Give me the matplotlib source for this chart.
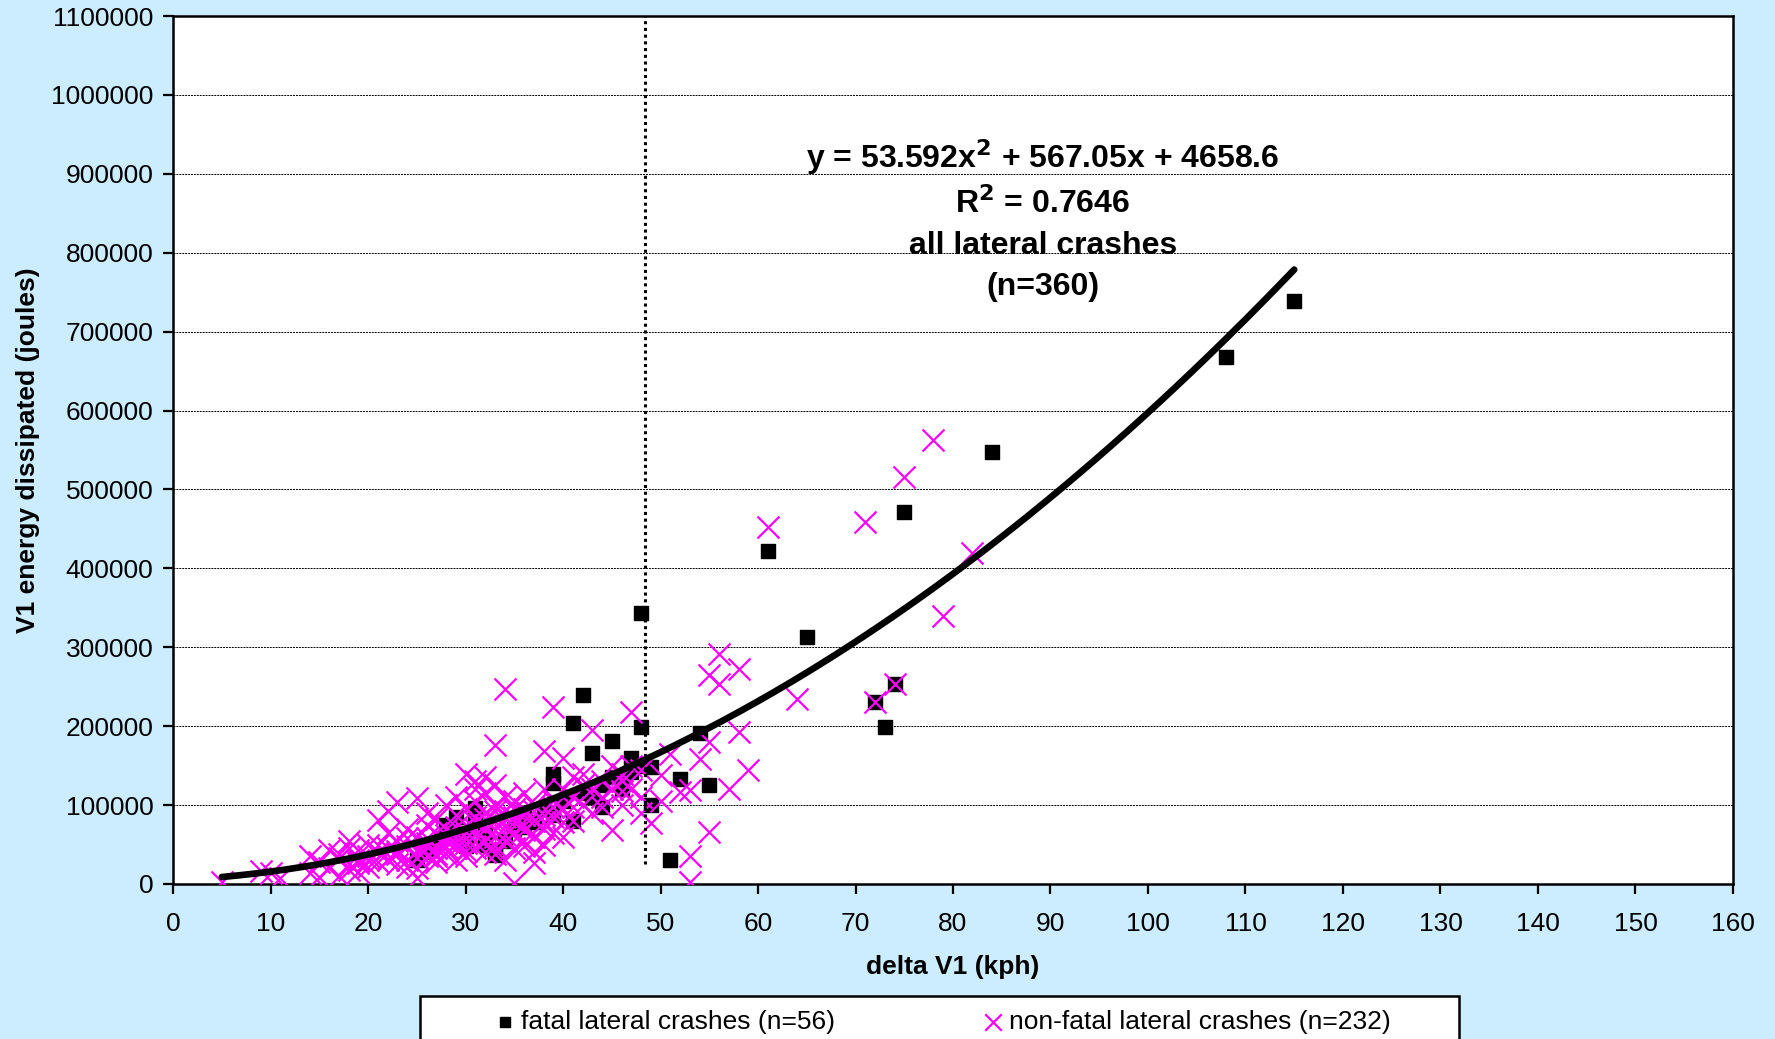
import matplotlib
matplotlib.use("Agg")
import matplotlib.pyplot as plt
from matplotlib.patches import Rectangle
import numpy as np

plt.rcParams["font.family"] = ["Liberation Sans", "DejaVu Sans"]

# fatal lateral crashes: delta V1 (kph), energy (J)
fatal_dv = [115, 108, 84, 75, 61, 65, 48, 48, 42, 41, 45, 43, 47, 46, 39, 39,
            39, 41, 44, 49, 49, 52, 54, 55, 51, 72, 74, 73, 47, 31, 29, 33,
            25, 33, 30, 28, 31, 35, 36, 27, 38, 32, 46, 48, 40, 34, 30, 26,
            37, 43, 44, 29, 32, 36, 45, 42]
fatal_e = [739000, 668000, 548000, 471000, 422000, 313000, 344000, 199000,
           240000, 204000, 181000, 166000, 160000, 130000, 140000, 128000,
           88000, 80000, 97000, 148000, 100000, 133000, 191000, 126000,
           31000, 230000, 254000, 199000, 142000, 96000, 85000, 37000,
           30000, 42000, 60000, 75000, 80000, 70000, 90000, 52000, 95000,
           62000, 120000, 150000, 105000, 55000, 48000, 40000, 78000, 110000,
           125000, 65000, 50000, 72000, 135000, 115000]

# non-fatal lateral crashes
nonfatal_dv = [78, 75, 71, 61, 82, 79, 56, 55, 56, 58, 64, 58, 59, 54, 55, 53,
               53, 72, 74, 34, 39, 47, 33, 38, 5, 9, 35, 37, 49, 45, 48, 52,
               53, 51, 50, 43, 46, 55, 57, 50,
               10, 11, 14, 14, 15, 15, 16, 16, 17, 17, 18, 18, 18, 19, 19, 19,
               20, 20, 20, 21, 21, 21, 22, 22, 22, 22, 23, 23, 23, 23, 24, 24,
               24, 25, 25, 25, 25, 25, 26, 26, 26, 26, 27, 27, 27, 27, 28, 28,
               28, 28, 29, 29, 29, 29, 29, 30, 30, 30, 30, 30, 31, 31, 31, 31,
               31, 31, 32, 32, 32, 32, 32, 32, 33, 33, 33, 33, 33, 34, 34, 34,
               34, 34, 35, 35, 35, 35, 36, 36, 36, 36, 37, 37, 37, 37, 38, 38,
               38, 38, 39, 39, 39, 40, 40, 40, 40, 41, 41, 41, 42, 42, 42, 43,
               43, 44, 44, 45, 45, 46, 46, 47, 47, 48, 48,
               17, 19, 21, 23, 24, 26, 27, 28, 29, 30, 31, 32, 33, 34, 35, 36,
               22, 25, 28, 30, 32, 34, 36, 38, 26, 29, 31, 33, 35, 37, 39, 41,
               18, 20, 24, 27, 30, 33, 36, 40, 44, 46]
nonfatal_e = [563000, 516000, 459000, 453000, 419000, 339000, 291000, 265000,
              254000, 272000, 235000, 192000, 145000, 159000, 66000, 36000,
              3000, 230000, 254000, 247000, 224000, 218000, 176000, 169000,
              3000, 16000, 1000, 27000, 77000, 69000, 145000, 116000, 119000,
              165000, 138000, 195000, 130000, 180000, 120000, 105000,
              14000, 8000, 36000, 14000, 9000, 28000, 43000, 20000, 10000,
              33000, 55000, 25000, 45000, 43000, 15000, 30000, 36000, 50000,
              22000, 40000, 28000, 81000, 64000, 45000, 32000, 93000, 104000,
              55000, 38000, 25000, 48000, 70000, 30000, 109000, 60000, 42000,
              20000, 8000, 75000, 52000, 35000, 90000, 65000, 45000, 28000,
              82000, 100000, 55000, 38000, 70000, 88000, 60000, 45000, 30000,
              110000, 140000, 75000, 52000, 95000, 35000, 130000, 105000,
              85000, 62000, 45000, 120000, 115000, 90000, 70000, 55000, 40000,
              135000, 125000, 100000, 80000, 60000, 48000, 110000, 92000,
              72000, 55000, 30000, 105000, 85000, 65000, 45000, 115000, 95000,
              75000, 55000, 100000, 80000, 60000, 40000, 120000, 88000, 70000,
              50000, 105000, 85000, 65000, 160000, 120000, 95000, 60000,
              135000, 110000, 80000, 125000, 100000, 140000, 120000, 90000,
              130000, 110000, 150000, 120000, 140000, 100000, 120000, 150000,
              110000, 90000,
              38000, 26000, 50000, 42000, 58000, 48000, 38000, 62000, 72000,
              66000, 78000, 82000, 92000, 85000, 95000, 88000,
              30000, 33000, 47000, 58000, 75000, 62000, 68000, 78000, 58000,
              52000, 70000, 68000, 78000, 92000, 98000, 98000,
              18000, 30000, 22000, 36000, 42000, 38000, 48000, 78000, 98000,
              118000]

# quadratic trend: y = 53.592x^2 + 567.05x + 4658.6
trend_coef = [53.592, 567.05, 4658.6]
trend_range = [5, 115]
cutoff_dv = 48.4

x_ticks = list(range(0, 161, 10))
y_ticks = list(range(0, 1100001, 100000))

bg = "#CCECFF"
fig = plt.figure(figsize=(17.75, 10.39), dpi=100, facecolor=bg)
ax = fig.add_axes([0.0975, 0.1492, 0.8788, 0.8354])
ax.set_facecolor("white")

ax.set_xlim(0, 160)
ax.set_ylim(0, 1100000)
ax.set_xticks(x_ticks)
ax.set_yticks(y_ticks)
ax.set_yticklabels([str(v) for v in y_ticks])
ax.tick_params(direction="out", length=7, width=1.6, labelsize=19, pad=7)
ax.tick_params(axis="x", pad=13)
for s in ax.spines.values():
    s.set_linewidth(1.8)
    s.set_color("black")

ax.grid(axis="y", color="black", linestyle=(0, (2, 1)), linewidth=0.7)
ax.set_axisbelow(True)

ax.scatter(fatal_dv, fatal_e, marker="s", s=95, c="black", zorder=3,
           label="fatal lateral crashes (n=56)")
ax.scatter(nonfatal_dv, nonfatal_e, marker="x", s=250, c="#FF00FF",
           linewidths=1.6, zorder=4, label="non-fatal lateral crashes (n=232)")

xt = np.linspace(trend_range[0], trend_range[1], 200)
ax.plot(xt, np.polyval(trend_coef, xt), color="black", linewidth=4.8,
        solid_capstyle="round", zorder=5)

ax.plot([cutoff_dv, cutoff_dv], [25000, 1100000], color="black",
        linestyle=(0, (1, 1.2)), linewidth=2.2, zorder=5)

tx = 89.2
tkw = dict(ha="center", va="center", fontsize=23, fontweight="bold", zorder=6)
ax.text(tx, 921000, "y = 53.592x$^\\mathbf{2}$ + 567.05x + 4658.6", **tkw)
ax.text(tx, 862000, "R$^\\mathbf{2}$ = 0.7646", **tkw)
ax.text(tx, 809000, "all lateral crashes", **tkw)
ax.text(tx, 756000, "(n=360)", **tkw)

ax.set_xlabel("delta V1 (kph)", fontsize=19, fontweight="bold", labelpad=14)
ax.set_ylabel("V1 energy dissipated (joules)", fontsize=19, fontweight="bold",
              labelpad=8)

fig.add_artist(Rectangle((420 / 1775, -0.05), 1039 / 1775,
                         (1039 - 996) / 1039 + 0.05, transform=fig.transFigure,
                         facecolor="white", edgecolor="black", linewidth=1.8))
leg = fig.legend(loc="center left", bbox_to_anchor=(481 / 1775, 1 - 1022 / 1039),
                 ncol=2, frameon=False, fontsize=19, handlelength=0.8,
                 handletextpad=0.2, columnspacing=5.6, borderpad=0,
                 scatterpoints=1, markerscale=0.75)

fig.savefig("out.png", dpi=100, facecolor=bg)
